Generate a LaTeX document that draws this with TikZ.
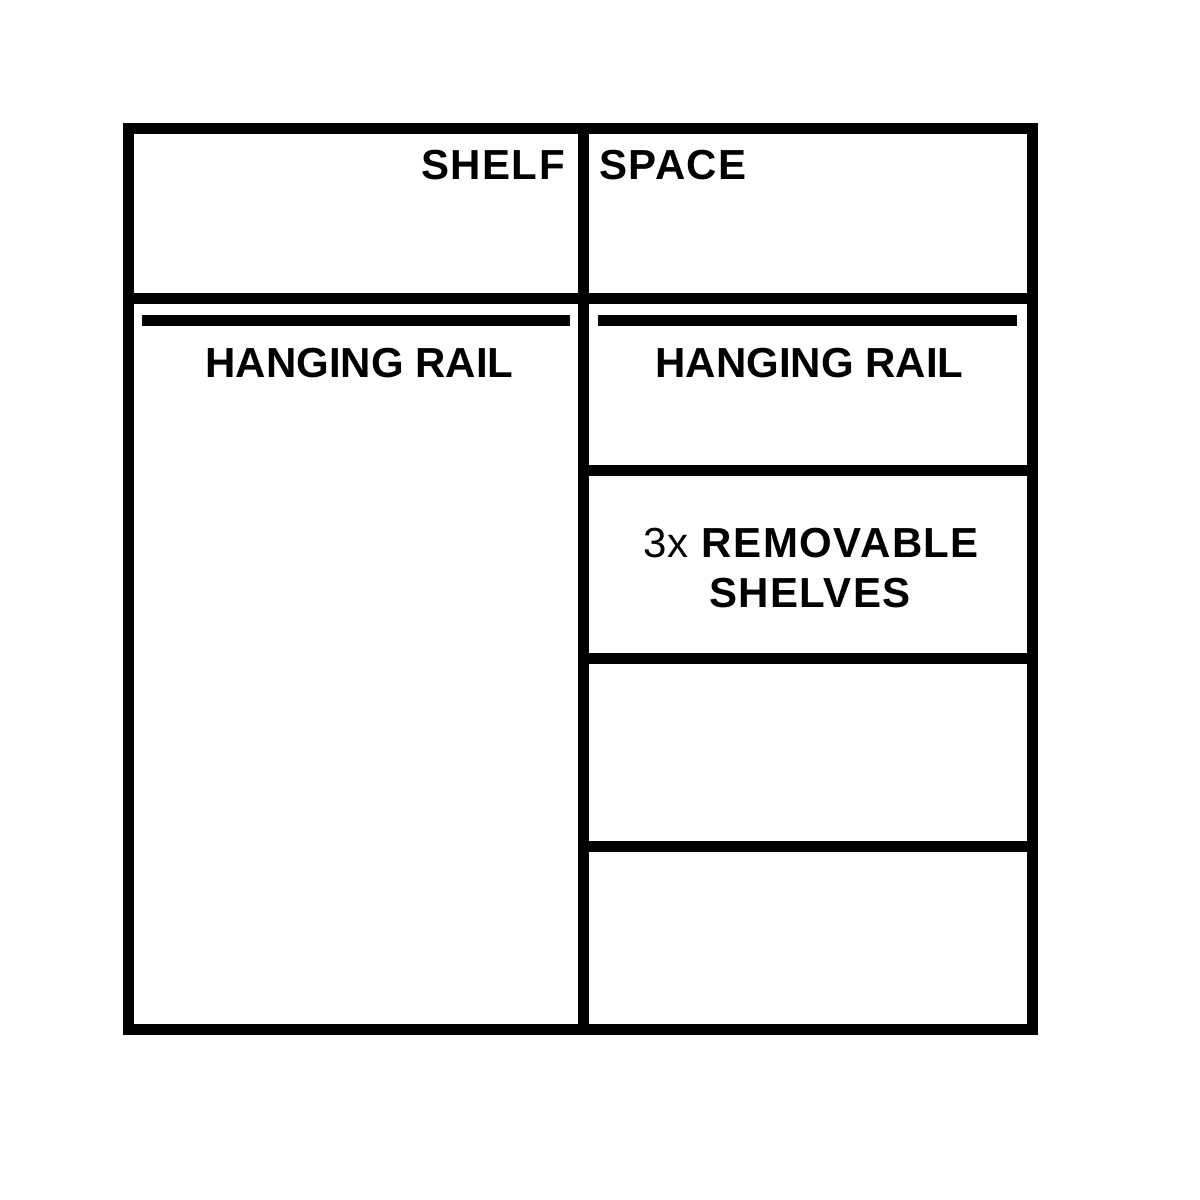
\documentclass[tikz,border=0pt]{standalone}
\usepackage{fontspec}
\setmainfont{Liberation Sans}
\begin{document}
\begin{tikzpicture}[x=1pt,y=-1pt,
  wall/.style={line width=11pt, line cap=rect},
  rail/.style={line width=11pt},
  lbl/.style={inner sep=0pt, font=\fontsize{42}{50}\selectfont\bfseries},
  wide/.style={lbl, font=\fontsize{42}{50}\selectfont\bfseries\addfontfeature{LetterSpace=3.5}}]
\useasboundingbox (0,0) rectangle (1200,1200);
\fill[white] (0,0) rectangle (1200,1200);
% outer frame
\draw[wall, line join=miter] (128.5,128) rectangle (1032,1029.5);
% vertical divider
\draw[wall] (583.5,128) -- (583.5,1029.5);
% top shelf line
\draw[wall] (128.5,298.5) -- (1032,298.5);
% right column shelves
\draw[wall] (583.5,470) -- (1032,470);
\draw[wall] (583.5,658) -- (1032,658);
\draw[wall] (583.5,846) -- (1032,846);
% hanging rails
\draw[rail] (142,320) -- (570,320);
\draw[rail] (598,320) -- (1017,320);
% labels
\node[wide, anchor=base east] (shelf) at (565,179) {SHELF};
\node[wide, anchor=base west] (space) at (599,179) {SPACE};
\node[lbl, anchor=base] (railL) at (359.5,377) {HANGING RAIL};
\node[lbl, anchor=base] (railR) at (809.5,377) {HANGING RAIL};
\node[wide, anchor=base] (rem) at (811,557) {\mdseries 3x \bfseries REMOVABLE};
\node[wide, anchor=base] (shv) at (810,607) {SHELVES};
\end{tikzpicture}
\end{document}
